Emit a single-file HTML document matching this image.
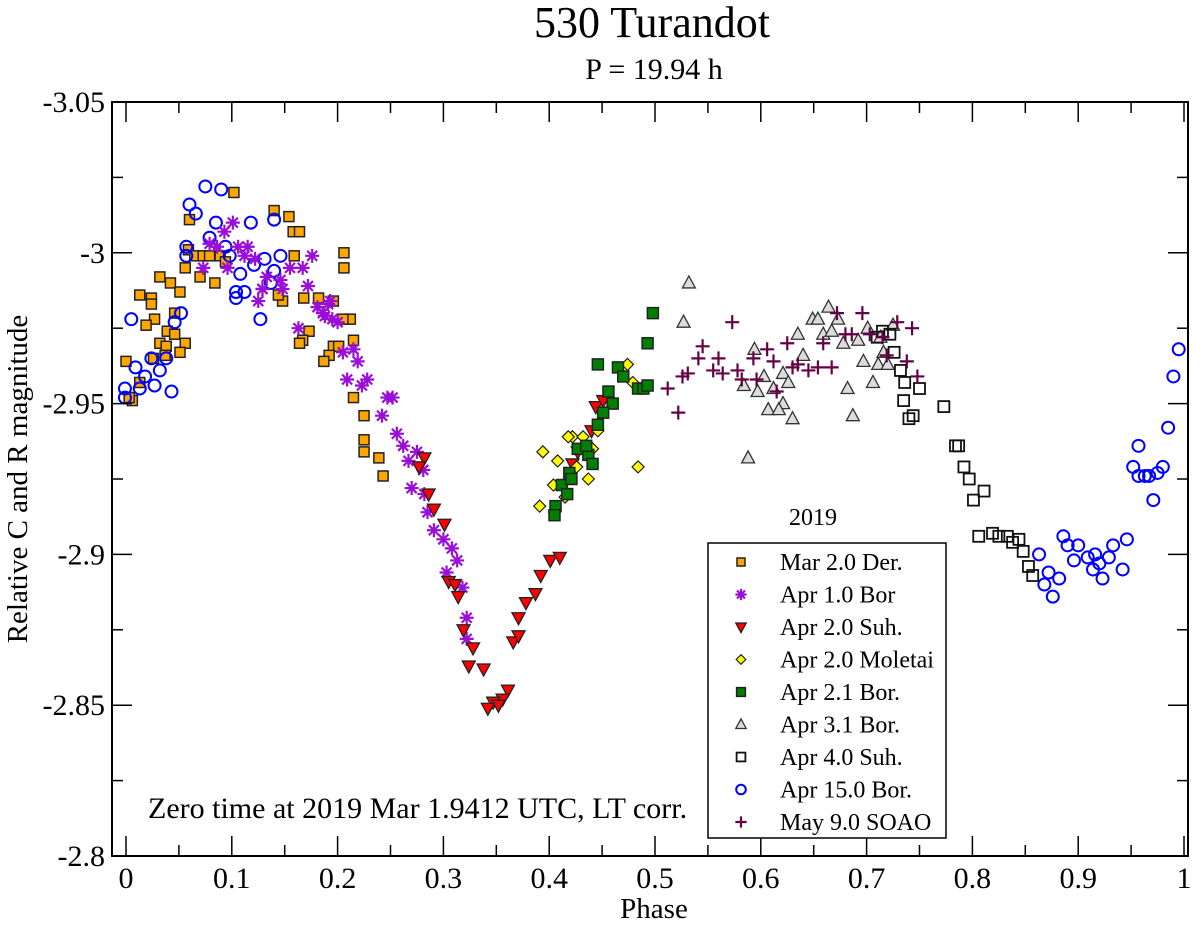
<!DOCTYPE html>
<html><head><meta charset="utf-8"><style>
html,body{margin:0;padding:0;background:#fff;}
svg{display:block;font-family:"Liberation Serif",serif;}
</style></head><body>
<svg id="chart" width="1200" height="925" viewBox="0 0 1200 925" xmlns="http://www.w3.org/2000/svg">
<text x="652" y="37" font-size="44" text-anchor="middle">530 Turandot</text>
<text x="654" y="79" font-size="30" text-anchor="middle">P = 19.94 h</text>
<g id="plot"></g>
<g id="axes"></g>
<text x="654" y="918" font-size="29" text-anchor="middle">Phase</text>
<text x="0" y="0" font-size="29" text-anchor="middle" transform="translate(27,479) rotate(-90)">Relative C and R magnitude</text>
<text x="148" y="818" font-size="30">Zero time at 2019 Mar 1.9412 UTC, LT corr.</text>
<g id="legend"></g>
</svg>
<script>
const xTicks = [0,0.1,0.2,0.3,0.4,0.5,0.6,0.7,0.8,0.9,1];
const xTickLabels = ["0","0.1","0.2","0.3","0.4","0.5","0.6","0.7","0.8","0.9","1"];
const yTicks = [-3.05,-3,-2.95,-2.9,-2.85,-2.8];
const yTickLabels = ["-3.05","-3","-2.95","-2.9","-2.85","-2.8"];
const seriesNames = ["Mar 2.0 Der.","Apr 1.0 Bor","Apr 2.0 Suh.","Apr 2.0 Moletai","Apr 2.1 Bor.","Apr 3.1 Bor.","Apr 4.0 Suh.","Apr 15.0 Bor.","May 9.0 SOAO"];
const derPhase=[0.102,0.140,0.154,0.060,0.158,0.164,0.059,0.065,0.073,0.079,0.089,0.094,0.056,0.070,0.084,0.032,0.042,0.051,0.013,0.024,0.024,0.027,0.019,0.046,0.039,0.046,0.056,0.032,0.038,0.051,0.037,0.026,0.000,0.013,0.006,0.003,0.159,0.168,0.182,0.196,0.212,0.205,0.173,0.167,0.164,0.215,0.196,0.201,0.192,0.187,0.206,0.206,0.215,0.148,0.144,0.225,0.225,0.225,0.239,0.243];
const derMag=[-3.020,-3.014,-3.012,-3.011,-3.007,-3.007,-3.001,-2.999,-2.999,-2.999,-2.999,-2.997,-2.995,-2.992,-2.990,-2.992,-2.990,-2.987,-2.986,-2.985,-2.983,-2.978,-2.976,-2.980,-2.974,-2.973,-2.970,-2.970,-2.969,-2.967,-2.966,-2.965,-2.964,-2.957,-2.951,-2.952,-2.999,-2.985,-2.985,-2.984,-2.978,-2.978,-2.974,-2.971,-2.970,-2.971,-2.969,-2.969,-2.966,-2.964,-3.000,-2.995,-2.952,-2.984,-2.986,-2.946,-2.938,-2.934,-2.932,-2.926];
const bor1Phase=[0.101,0.093,0.079,0.086,0.106,0.115,0.112,0.122,0.073,0.096,0.155,0.167,0.176,0.172,0.146,0.133,0.148,0.129,0.125,0.181,0.191,0.186,0.195,0.200,0.163,0.205,0.215,0.219,0.209,0.223,0.228,0.129,0.193,0.188,0.247,0.252,0.242,0.256,0.262,0.267,0.275,0.281,0.270,0.282,0.285,0.291,0.300,0.308,0.313,0.303,0.318,0.322,0.322];
const bor1Mag=[-3.010,-3.007,-3.003,-3.002,-3.002,-3.002,-2.999,-2.998,-2.995,-2.995,-2.995,-2.995,-2.999,-2.989,-2.991,-2.992,-2.988,-2.988,-2.984,-2.982,-2.983,-2.980,-2.978,-2.977,-2.975,-2.967,-2.968,-2.964,-2.958,-2.956,-2.958,-2.988,-2.984,-2.979,-2.952,-2.952,-2.946,-2.940,-2.936,-2.931,-2.934,-2.928,-2.922,-2.920,-2.914,-2.908,-2.905,-2.902,-2.898,-2.894,-2.889,-2.879,-2.872];
const suh1Phase=[0.282,0.277,0.286,0.291,0.301,0.305,0.311,0.314,0.319,0.328,0.324,0.338,0.361,0.356,0.347,0.352,0.342,0.366,0.371,0.371,0.378,0.387,0.392,0.401,0.410,0.422,0.427,0.440,0.444,0.451];
const suh1Mag=[-2.932,-2.929,-2.920,-2.915,-2.910,-2.891,-2.890,-2.886,-2.875,-2.869,-2.863,-2.862,-2.855,-2.852,-2.851,-2.850,-2.849,-2.871,-2.873,-2.879,-2.884,-2.887,-2.893,-2.898,-2.899,-2.930,-2.934,-2.941,-2.949,-2.951];
const molPhase=[0.474,0.479,0.422,0.418,0.432,0.441,0.446,0.394,0.408,0.484,0.426,0.404,0.405,0.391,0.415,0.437];
const molMag=[-2.963,-2.957,-2.939,-2.939,-2.939,-2.935,-2.941,-2.934,-2.931,-2.929,-2.929,-2.923,-2.914,-2.916,-2.919,-2.925];
const bor2Phase=[0.498,0.493,0.446,0.465,0.470,0.484,0.489,0.493,0.456,0.460,0.451,0.446,0.427,0.437,0.441,0.419,0.412,0.417,0.406,0.405,0.435,0.421];
const bor2Mag=[-2.980,-2.970,-2.963,-2.962,-2.959,-2.955,-2.955,-2.956,-2.954,-2.950,-2.947,-2.943,-2.935,-2.933,-2.930,-2.927,-2.923,-2.920,-2.916,-2.913,-2.936,-2.925];
const bor3Phase=[0.532,0.527,0.588,0.594,0.635,0.640,0.584,0.597,0.603,0.612,0.621,0.626,0.621,0.607,0.617,0.630,0.664,0.649,0.654,0.673,0.659,0.667,0.678,0.692,0.701,0.697,0.711,0.720,0.706,0.682,0.687,0.716,0.725,0.713];
const bor3Mag=[-2.990,-2.977,-2.932,-2.968,-2.973,-2.966,-2.956,-2.954,-2.959,-2.955,-2.960,-2.957,-2.950,-2.948,-2.948,-2.945,-2.982,-2.978,-2.978,-2.978,-2.973,-2.974,-2.970,-2.971,-2.975,-2.964,-2.963,-2.963,-2.957,-2.955,-2.946,-2.967,-2.976,-2.972];
const suh2Phase=[0.715,0.722,0.710,0.726,0.732,0.736,0.750,0.735,0.744,0.740,0.773,0.784,0.787,0.792,0.797,0.811,0.801,0.806,0.819,0.825,0.833,0.838,0.844,0.848,0.853,0.857];
const suh2Mag=[-2.974,-2.973,-2.972,-2.967,-2.961,-2.957,-2.955,-2.951,-2.946,-2.945,-2.949,-2.936,-2.936,-2.929,-2.925,-2.921,-2.918,-2.906,-2.907,-2.906,-2.906,-2.904,-2.905,-2.901,-2.896,-2.893];
const bor15Phase=[0.075,0.090,0.060,0.066,0.085,0.118,0.140,0.079,0.094,0.057,0.057,0.098,0.146,0.131,0.121,0.140,0.108,0.137,0.104,0.112,0.104,0.127,0.005,0.052,0.046,0.024,0.038,0.032,0.009,0.018,0.027,0.013,0.043,-0.001,-0.001,0.995,0.990,0.985,0.957,0.952,0.957,0.963,0.967,0.975,0.980,0.971,0.886,0.890,0.900,0.863,0.896,0.909,0.916,0.920,0.914,0.929,0.933,0.946,0.942,0.923,0.872,0.882,0.868,0.876];
const bor15Mag=[-3.022,-3.021,-3.016,-3.013,-3.010,-3.010,-3.011,-3.005,-3.002,-3.002,-2.999,-2.999,-2.999,-2.998,-2.996,-2.994,-2.993,-2.990,-2.987,-2.987,-2.985,-2.978,-2.978,-2.980,-2.977,-2.965,-2.965,-2.961,-2.962,-2.959,-2.956,-2.955,-2.954,-2.955,-2.952,-2.968,-2.959,-2.942,-2.936,-2.929,-2.926,-2.926,-2.926,-2.927,-2.929,-2.918,-2.906,-2.903,-2.903,-2.900,-2.898,-2.899,-2.900,-2.897,-2.895,-2.899,-2.903,-2.905,-2.895,-2.892,-2.894,-2.892,-2.890,-2.886];
const soaoPhase=[0.573,0.545,0.541,0.560,0.555,0.564,0.531,0.526,0.512,0.522,0.578,0.582,0.593,0.596,0.606,0.612,0.615,0.625,0.630,0.635,0.645,0.654,0.667,0.659,0.672,0.680,0.686,0.696,0.703,0.715,0.719,0.729,0.738,0.743,0.748];
const soaoMag=[-2.977,-2.969,-2.965,-2.965,-2.961,-2.960,-2.960,-2.959,-2.955,-2.947,-2.961,-2.958,-2.965,-2.958,-2.968,-2.964,-2.954,-2.970,-2.962,-2.963,-2.961,-2.962,-2.962,-2.970,-2.980,-2.973,-2.973,-2.980,-2.973,-2.972,-2.966,-2.977,-2.964,-2.975,-2.959];

const NS="http://www.w3.org/2000/svg";
const X0=126,X1=1184,Y0=102,Y1=856,PL=112,PR=1188;
function xs(v){return X0+(v-0)*(X1-X0);}
function ys(v){return Y0+(v+3.05)/0.25*(Y1-Y0);}
function mk(tag,attrs,parent){const e=document.createElementNS(NS,tag);for(const k in attrs)e.setAttribute(k,attrs[k]);parent.appendChild(e);return e;}

function drawMarker(type,cx,cy,g,s){
  s=s||1;
  let e;
  if(type===0){e=mk('rect',{x:cx-5*s,y:cy-5*s,width:10*s,height:10*s,fill:'#ffa500',stroke:'#222','stroke-width':1.5},g);}
  else if(type===1){e=mk('path',{d:`M${cx-7*s},${cy}H${cx+7*s}M${cx},${cy-7*s}V${cy+7*s}M${cx-5*s},${cy-5*s}L${cx+5*s},${cy+5*s}M${cx-5*s},${cy+5*s}L${cx+5*s},${cy-5*s}`,stroke:'#9a0fd8','stroke-width':2.2,fill:'none'},g);}
  else if(type===2){e=mk('path',{d:`M${cx-6.5*s},${cy-5*s}H${cx+6.5*s}L${cx},${cy+7*s}Z`,fill:'#ff0000',stroke:'#222','stroke-width':1.3},g);}
  else if(type===3){e=mk('path',{d:`M${cx},${cy-6*s}L${cx+6*s},${cy}L${cx},${cy+6*s}L${cx-6*s},${cy}Z`,fill:'#ffff00',stroke:'#222','stroke-width':1.2},g);}
  else if(type===4){e=mk('rect',{x:cx-5.5*s,y:cy-5.5*s,width:11*s,height:11*s,fill:'#008000',stroke:'#222','stroke-width':1.5},g);}
  else if(type===5){e=mk('path',{d:`M${cx-6.5*s},${cy+5*s}H${cx+6.5*s}L${cx},${cy-7*s}Z`,fill:'#dcdcdc',stroke:'#333','stroke-width':1.3},g);}
  else if(type===6){e=mk('rect',{x:cx-5.5*s,y:cy-5.5*s,width:11*s,height:11*s,fill:'none',stroke:'#111','stroke-width':1.8},g);}
  else if(type===7){e=mk('circle',{cx:cx,cy:cy,r:6*s,fill:'none',stroke:'#0000ff','stroke-width':2},g);}
  else {e=mk('path',{d:`M${cx-7*s},${cy}H${cx+7*s}M${cx},${cy-7*s}V${cy+7*s}`,stroke:'#660044','stroke-width':2.2,fill:'none'},g);}
  return e;
}

const plot=document.getElementById('plot');
const axes=document.getElementById('axes');
const allSeries=[[derPhase,derMag],[bor1Phase,bor1Mag],[suh1Phase,suh1Mag],[molPhase,molMag],[bor2Phase,bor2Mag],[bor3Phase,bor3Mag],[suh2Phase,suh2Mag],[bor15Phase,bor15Mag],[soaoPhase,soaoMag]];
const order=[0,7,1,2,3,4,5,6,8];
order.forEach(si=>{
  const g=mk('g',{},plot);
  
  
  const [px,py]=allSeries[si];
  for(let i=0;i<px.length;i++){
    const m=drawMarker(si,xs(px[i]),ys(py[i]),g);
    
    
  }
});

const frame=mk('rect',{x:PL,y:Y0,width:PR-PL,height:Y1-Y0,fill:'none',stroke:'#000','stroke-width':2},axes);


for(let i=0;i<xTicks.length;i++){
  const x=xs(xTicks[i]);
  mk('line',{x1:x,y1:Y1,x2:x,y2:Y1-20,stroke:'#000','stroke-width':1.5},axes);
  mk('line',{x1:x,y1:Y0,x2:x,y2:Y0+20,stroke:'#000','stroke-width':1.5},axes);
  const t=mk('text',{x:x,y:888,'font-size':30,'text-anchor':'middle'},axes);
  t.textContent=xTickLabels[i];
  
  
  if(i<xTicks.length-1){
    const xm=xs(xTicks[i]+0.05);
    mk('line',{x1:xm,y1:Y1,x2:xm,y2:Y1-11,stroke:'#000','stroke-width':1.5},axes);
    mk('line',{x1:xm,y1:Y0,x2:xm,y2:Y0+11,stroke:'#000','stroke-width':1.5},axes);
  }
}
for(let i=0;i<yTicks.length;i++){
  const y=ys(yTicks[i]);
  mk('line',{x1:PL,y1:y,x2:PL+20,y2:y,stroke:'#000','stroke-width':1.5},axes);
  mk('line',{x1:PR,y1:y,x2:PR-20,y2:y,stroke:'#000','stroke-width':1.5},axes);
  const t=mk('text',{x:105,y:y+10,'font-size':30,'text-anchor':'end'},axes);
  t.textContent=yTickLabels[i];
  
  
  if(i<yTicks.length-1){
    const ym=ys(yTicks[i]+0.025);
    mk('line',{x1:PL,y1:ym,x2:PL+11,y2:ym,stroke:'#000','stroke-width':1.5},axes);
    mk('line',{x1:PR,y1:ym,x2:PR-11,y2:ym,stroke:'#000','stroke-width':1.5},axes);
  }
}
const lg=document.getElementById('legend');
const lt=mk('text',{x:813,y:525,'font-size':24,'text-anchor':'middle'},lg);
lt.textContent='2019';


const lb=mk('rect',{x:708,y:543,width:238,height:295,fill:'#fff',stroke:'#000','stroke-width':1.5},lg);


seriesNames.forEach((n,i)=>{
  const y=562+i*32.5;
  const g=mk('g',{},lg);
  
  
  drawMarker(i,741,y,g,0.8);
  const t=mk('text',{x:780,y:y+8,'font-size':24},g);
  t.textContent=n;
});
</script>
</body></html>
